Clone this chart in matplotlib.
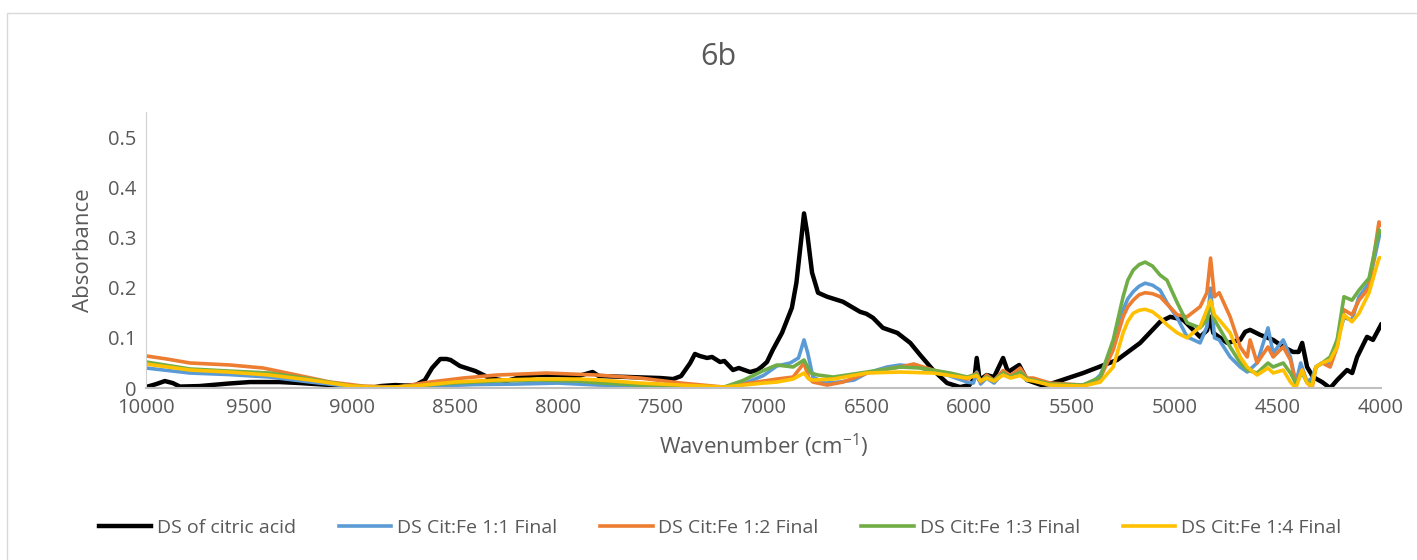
import matplotlib
matplotlib.use('Agg')
import matplotlib.pyplot as plt
from matplotlib.patches import Rectangle

# Datos (numero de onda, absorbancia)
wn_citrico = [10000, 9950, 9908, 9870, 9835, 9740, 9600, 9495, 9350, 9250, 9100, 9010, 8910, 8860, 8790, 8740,
              8690, 8645, 8610, 8570, 8540, 8520, 8475, 8400, 8330, 8250, 8180, 8100, 8000, 7900, 7830, 7800,
              7650, 7500, 7439, 7400, 7356, 7333, 7310, 7274, 7250, 7211, 7190, 7148, 7120, 7065, 7030, 7010,
              6983, 6955, 6910, 6862, 6840, 6817, 6803, 6788, 6764, 6735, 6691, 6614, 6531, 6500, 6468, 6420,
              6350, 6287, 6239, 6176, 6108, 6045, 6000, 5975, 5964, 5950, 5916, 5880, 5836, 5812, 5758, 5720,
              5650, 5608, 5447, 5282, 5170, 5073, 5024, 4961, 4879, 4845, 4830, 4815, 4747, 4684, 4660, 4636,
              4587, 4524, 4475, 4427, 4400, 4383, 4359, 4330, 4286, 4247, 4213, 4165, 4140, 4116, 4068, 4039, 4000]
abs_citrico = [0.002, 0.008, 0.014, 0.010, 0.003, 0.004, 0.009, 0.012, 0.012, 0.010, 0.006, 0.004, 0.000, 0.004, 0.006, 0.005,
               0.006, 0.016, 0.040, 0.058, 0.058, 0.056, 0.044, 0.034, 0.020, 0.014, 0.022, 0.026, 0.026, 0.024, 0.032, 0.024,
               0.022, 0.020, 0.018, 0.024, 0.050, 0.068, 0.064, 0.060, 0.062, 0.052, 0.054, 0.036, 0.040, 0.032, 0.036, 0.042,
               0.052, 0.076, 0.110, 0.160, 0.210, 0.295, 0.348, 0.310, 0.230, 0.190, 0.182, 0.172, 0.152, 0.148, 0.140, 0.120,
               0.110, 0.090, 0.066, 0.036, 0.010, 0.002, 0.006, 0.020, 0.060, 0.016, 0.026, 0.022, 0.060, 0.032, 0.046, 0.016,
               0.006, 0.008, 0.030, 0.056, 0.090, 0.132, 0.142, 0.136, 0.102, 0.115, 0.142, 0.110, 0.090, 0.096, 0.112, 0.116,
               0.106, 0.096, 0.082, 0.072, 0.072, 0.090, 0.042, 0.022, 0.012, 0.000, 0.016, 0.036, 0.030, 0.062, 0.102, 0.096, 0.126]

wn_11 = [10000, 9786, 9600, 9400, 9200, 9000, 8900, 8780, 8600, 8400, 8200, 8000, 7800, 7500, 7300, 7192, 7100, 7000,
         6935, 6870, 6830, 6803, 6785, 6760, 6700, 6630, 6560, 6497, 6400, 6336, 6250, 6176, 6100, 6010, 5980, 5964,
         5945, 5916, 5880, 5836, 5800, 5753, 5720, 5689, 5608, 5500, 5447, 5400, 5364, 5301, 5253, 5230, 5204, 5175,
         5146, 5110, 5073, 5040, 4990, 4942, 4879, 4846, 4828, 4809, 4786, 4733, 4684, 4650, 4602, 4549, 4524, 4475,
         4440, 4414, 4390, 4360, 4335, 4316, 4286, 4247, 4213, 4180, 4141, 4107, 4058, 4010, 4000]
abs_11 = [0.040, 0.030, 0.027, 0.022, 0.012, 0.003, 0.001, 0.000, 0.004, 0.007, 0.008, 0.010, 0.006, 0.004, 0.002, 0.002, 0.008, 0.025,
          0.044, 0.050, 0.060, 0.096, 0.070, 0.022, 0.010, 0.012, 0.016, 0.030, 0.042, 0.046, 0.042, 0.032, 0.025, 0.012, 0.010, 0.032,
          0.008, 0.020, 0.010, 0.030, 0.022, 0.030, 0.015, 0.018, 0.008, 0.004, 0.006, 0.012, 0.026, 0.082, 0.156, 0.178, 0.192, 0.203,
          0.209, 0.205, 0.195, 0.170, 0.140, 0.102, 0.090, 0.122, 0.199, 0.100, 0.096, 0.062, 0.042, 0.032, 0.050, 0.120, 0.070, 0.096,
          0.062, 0.010, 0.050, 0.012, 0.020, 0.042, 0.050, 0.050, 0.096, 0.140, 0.136, 0.182, 0.209, 0.300, 0.310]

wn_12 = [10000, 9900, 9786, 9592, 9431, 9267, 9106, 8946, 8780, 8620, 8460, 8296, 8053, 7810, 7600, 7400, 7192, 7000,
         6935, 6856, 6803, 6780, 6760, 6691, 6614, 6497, 6400, 6336, 6270, 6176, 6100, 6010, 5964, 5945, 5916, 5880,
         5836, 5800, 5753, 5720, 5689, 5608, 5447, 5364, 5301, 5253, 5230, 5204, 5175, 5146, 5110, 5073, 4990, 4942,
         4879, 4846, 4828, 4809, 4786, 4733, 4684, 4650, 4636, 4602, 4549, 4524, 4475, 4440, 4414, 4383, 4360, 4335,
         4316, 4286, 4247, 4213, 4180, 4141, 4107, 4058, 4010, 4000]
abs_12 = [0.064, 0.058, 0.050, 0.046, 0.040, 0.026, 0.012, 0.004, 0.002, 0.012, 0.020, 0.026, 0.030, 0.026, 0.020, 0.010, 0.002, 0.014,
          0.018, 0.022, 0.050, 0.020, 0.012, 0.006, 0.012, 0.030, 0.038, 0.042, 0.048, 0.036, 0.028, 0.018, 0.030, 0.012, 0.026, 0.015,
          0.035, 0.025, 0.040, 0.020, 0.020, 0.010, 0.006, 0.020, 0.076, 0.142, 0.162, 0.175, 0.186, 0.190, 0.188, 0.182, 0.146, 0.142,
          0.162, 0.190, 0.259, 0.182, 0.190, 0.142, 0.082, 0.062, 0.096, 0.050, 0.082, 0.062, 0.082, 0.056, 0.010, 0.036, 0.012, 0.000,
          0.042, 0.050, 0.042, 0.082, 0.156, 0.146, 0.175, 0.200, 0.331, 0.325]

wn_13 = [10000, 9786, 9600, 9400, 9200, 9000, 8850, 8700, 8500, 8300, 8100, 7900, 7794, 7600, 7400, 7192, 7100, 7000,
         6935, 6856, 6803, 6770, 6735, 6661, 6497, 6336, 6240, 6093, 6010, 5964, 5945, 5916, 5880, 5836, 5800, 5753,
         5720, 5689, 5608, 5447, 5364, 5301, 5253, 5230, 5204, 5175, 5146, 5110, 5073, 5040, 4990, 4942, 4879, 4846,
         4828, 4809, 4786, 4733, 4684, 4650, 4602, 4549, 4524, 4475, 4440, 4414, 4383, 4360, 4335, 4316, 4286, 4247,
         4213, 4180, 4141, 4107, 4058, 4010, 4000]
abs_13 = [0.052, 0.038, 0.034, 0.030, 0.018, 0.004, 0.001, 0.004, 0.010, 0.014, 0.016, 0.014, 0.010, 0.006, 0.003, 0.002, 0.015, 0.035,
          0.046, 0.042, 0.056, 0.030, 0.026, 0.022, 0.032, 0.042, 0.040, 0.030, 0.022, 0.028, 0.014, 0.022, 0.015, 0.030, 0.022, 0.032,
          0.018, 0.016, 0.008, 0.006, 0.022, 0.096, 0.182, 0.215, 0.235, 0.246, 0.251, 0.243, 0.225, 0.215, 0.170, 0.130, 0.120, 0.136,
          0.170, 0.136, 0.120, 0.082, 0.050, 0.036, 0.030, 0.050, 0.042, 0.050, 0.030, 0.010, 0.030, 0.012, 0.010, 0.042, 0.050, 0.062,
          0.096, 0.182, 0.175, 0.195, 0.219, 0.315, 0.310]

wn_14 = [10000, 9786, 9600, 9400, 9200, 9000, 8850, 8700, 8500, 8300, 8100, 7900, 7794, 7600, 7400, 7192, 7000, 6935,
         6856, 6803, 6780, 6760, 6661, 6497, 6336, 6176, 6010, 5964, 5945, 5916, 5880, 5836, 5800, 5753, 5720, 5689,
         5608, 5447, 5364, 5301, 5253, 5230, 5204, 5175, 5146, 5110, 5073, 5040, 4990, 4942, 4879, 4846, 4828, 4809,
         4786, 4733, 4684, 4650, 4602, 4549, 4524, 4475, 4440, 4414, 4383, 4360, 4335, 4316, 4286, 4247, 4213, 4180,
         4141, 4107, 4058, 4010, 4000]
abs_14 = [0.048, 0.036, 0.032, 0.026, 0.016, 0.004, 0.001, 0.004, 0.012, 0.016, 0.018, 0.018, 0.016, 0.010, 0.006, 0.002, 0.010, 0.012,
          0.018, 0.030, 0.018, 0.016, 0.018, 0.030, 0.032, 0.030, 0.020, 0.025, 0.014, 0.020, 0.014, 0.026, 0.020, 0.025, 0.016, 0.014,
          0.006, 0.004, 0.012, 0.042, 0.110, 0.133, 0.149, 0.155, 0.157, 0.152, 0.140, 0.126, 0.110, 0.100, 0.122, 0.156, 0.175, 0.146,
          0.136, 0.110, 0.062, 0.042, 0.026, 0.040, 0.030, 0.036, 0.012, 0.000, 0.036, 0.010, 0.004, 0.042, 0.050, 0.056, 0.082, 0.146,
          0.132, 0.149, 0.190, 0.259, 0.260]

etiquetas = ['DS of citric acid', 'DS Cit:Fe 1:1 Final', 'DS Cit:Fe 1:2 Final',
             'DS Cit:Fe 1:3 Final', 'DS Cit:Fe 1:4 Final']
colores = ['#000000', '#5B9BD5', '#ED7D31', '#70AD47', '#FFC000']

plt.rcParams['font.family'] = ['Open Sans', 'DejaVu Sans']

fig = plt.figure(figsize=(14.17, 5.6), dpi=100)
ax = fig.add_axes([0.103, 0.307, 0.8716, 0.493])

series = [(wn_citrico, abs_citrico), (wn_11, abs_11), (wn_12, abs_12), (wn_13, abs_13), (wn_14, abs_14)]
for (x, y), lab, c in zip(series, etiquetas, colores):
    lw = 3.2 if c == '#000000' else 2.6
    ax.plot(x, y, color=c, lw=lw, label=lab, solid_joinstyle='round')

ax.set_xlim(10000, 4000)
ax.set_ylim(0, 0.55)
ax.set_xticks(range(10000, 3999, -500))
ax.set_yticks([0, 0.1, 0.2, 0.3, 0.4, 0.5])
ax.set_yticklabels(['0', '0.1', '0.2', '0.3', '0.4', '0.5'])
for s in ['top', 'right']:
    ax.spines[s].set_visible(False)
ax.spines['left'].set_color('#d0d0d0')
ax.spines['bottom'].set_color('#bfbfbf')
ax.spines['bottom'].set_linewidth(1.5)
ax.tick_params(length=0, labelsize=14.5, colors='#595959', pad=7)

ax.set_xlabel('Wavenumber (cm$^{\\mathregular{-1}}$)', fontsize=16, color='#595959', labelpad=10)
ax.set_ylabel('Absorbance', fontsize=16, color='#595959', labelpad=10)
fig.text(0.507, 1 - 57 / 560, '6b', fontsize=22, color='#595959', ha='center', va='center')

fig.legend(loc='center', bbox_to_anchor=(0.508, 1 - 528 / 560), ncol=5, frameon=False,
           fontsize=14, labelcolor='#595959', handlelength=2.7, columnspacing=2.2, handletextpad=0.3)

# borde del grafico
fig.patches.append(Rectangle((7 / 1417, -0.05), 1.1, 1 - 13 / 560 + 0.05, transform=fig.transFigure,
                             fill=False, edgecolor='#d9d9d9', lw=1.0))

fig.savefig('out.png', dpi=100)
